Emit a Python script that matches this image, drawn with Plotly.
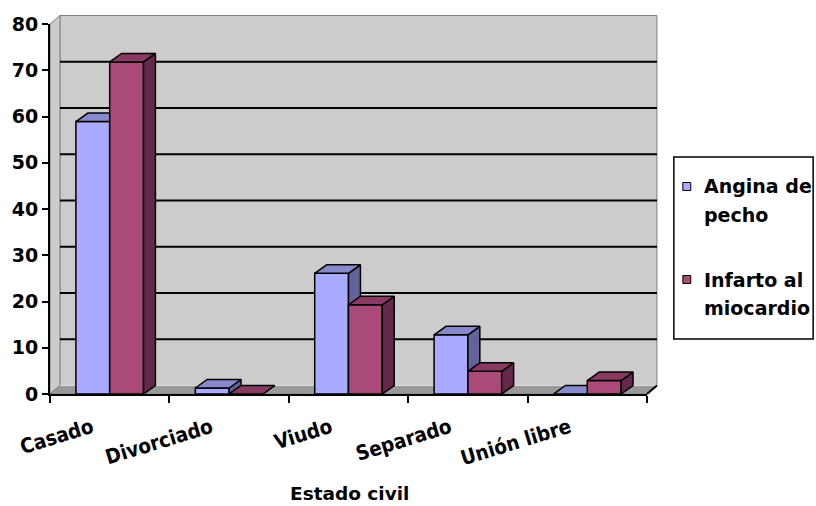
import plotly.graph_objects as go

# ---------------- data ----------------
categories = ["Casado", "Divorciado", "Viudo", "Separado", "Unión libre"]
angina = [58.9, 1.3, 26.1, 12.8, 0.0]
infarto = [71.8, 0.0, 19.3, 4.9, 2.9]
series_names = ["Angina de pecho", "Infarto al miocardio"]
legend_lines = [["Angina de", "pecho"], ["Infarto al", "miocardio"]]
y_ticks = [0, 10, 20, 30, 40, 50, 60, 70, 80]
x_title = "Estado civil"

# ---------------- styles / geometry ----------------
W, H = 816, 506
L, R, T, B = 47, 169, 24, 112
PW, PH = W - L - R, H - T - B
XMIN, XMAX = -0.5, len(categories) - 0.5
YMIN, YMAX = 0, 80
UX = PW / (XMAX - XMIN)
UY = PH / (YMAX - YMIN)

WALL_DX, WALL_DY = 10, 8.5      # px depth of walls
BAR_DX, BAR_DY = 12, 8.5        # px depth of bars
BAR_W = 0.283                   # category units

FONT = "DejaVu Sans"
XFONT = "DejaVu Sans Condensed, Liberation Sans, DejaVu Sans"
front_cols = ["#AAAAFF", "#AA4A78"]
top_cols = ["#8888CC", "#883A62"]
side_cols = ["#636399", "#64284A"]

bdx = BAR_DX / UX
bdy = BAR_DY / UY


def xp(x):
    return (x - XMIN) / (XMAX - XMIN)


def yp(y):
    return (y - YMIN) / (YMAX - YMIN)


def px_x(px):
    return (px - L) / PW


def px_y(py):
    return (H - B - py) / PH


wdx = WALL_DX / PW
wdy = WALL_DY / PH

fig = go.Figure()

# ---------------- bars (front, side, top faces) ----------------
for s, vals in enumerate([angina, infarto]):
    fx, fy, sx, sy, tx, ty = [], [], [], [], [], []
    for i, v in enumerate(vals):
        x0 = i - BAR_W if s == 0 else i
        x1 = x0 + BAR_W
        fx += [x0, x1, x1, x0, x0, None]
        fy += [0, 0, v, v, 0, None]
        sx += [x1, x1 + bdx, x1 + bdx, x1, x1, None]
        sy += [0, bdy, v + bdy, v, 0, None]
        tx += [x0, x1, x1 + bdx, x0 + bdx, x0, None]
        ty += [v, v, v + bdy, v + bdy, v, None]
    for xs, ys, col in [(fx, fy, front_cols[s]),
                        (sx, sy, side_cols[s]),
                        (tx, ty, top_cols[s])]:
        fig.add_trace(go.Scatter(
            x=xs, y=ys, mode="lines", fill="toself", fillcolor=col,
            line=dict(color="black", width=1.5), name=series_names[s],
            showlegend=False, hoverinfo="skip"))

shapes = []
# back wall
shapes.append(dict(type="rect", xref="paper", yref="paper", layer="below",
                   x0=xp(XMIN) + wdx, x1=xp(XMAX) + wdx,
                   y0=yp(YMIN) + wdy, y1=yp(YMAX) + wdy,
                   fillcolor="#CCCCCC", line=dict(color="#808080", width=1)))
# left wall
shapes.append(dict(type="path", xref="paper", yref="paper", layer="below",
                   path=f"M 0 0 L {wdx} {wdy} L {wdx} {1 + wdy} L 0 1 Z",
                   fillcolor="#CCCCCC", line=dict(color="#808080", width=1)))
# floor
shapes.append(dict(type="path", xref="paper", yref="paper", layer="below",
                   path=f"M 0 0 L 1 0 L {1 + wdx} {wdy} L {wdx} {wdy} Z",
                   fillcolor="#999999", line=dict(color="#808080", width=1)))
shapes.append(dict(type="line", xref="paper", yref="paper", layer="below",
                   x0=wdx, x1=1 + wdx, y0=wdy, y1=wdy,
                   line=dict(color="#DDDDDD", width=1)))
# gridlines on back wall
for t in y_ticks[1:-1]:
    shapes.append(dict(type="line", xref="paper", yref="paper", layer="below",
                       x0=wdx, x1=1 + wdx, y0=yp(t) + wdy, y1=yp(t) + wdy,
                       line=dict(color="black", width=2)))
# front-right floor diagonal
shapes.append(dict(type="line", xref="paper", yref="paper", layer="above",
                   x0=1, x1=1 + wdx, y0=0, y1=wdy,
                   line=dict(color="black", width=2)))

# ---------------- legend (manual) ----------------
shapes.append(dict(type="rect", xref="paper", yref="paper", layer="above",
                   x0=px_x(674), x1=px_x(814), y0=px_y(157), y1=px_y(339),
                   fillcolor="white", line=dict(color="black", width=1.5)))
annotations = []
leg_rows = [(186.5, 215.5), (279.5, 307.5)]
for s in range(2):
    yc = leg_rows[s][0]
    shapes.append(dict(type="rect", xref="paper", yref="paper", layer="above",
                       x0=px_x(683), x1=px_x(691), y0=px_y(yc - 4), y1=px_y(yc + 4),
                       fillcolor=front_cols[s], line=dict(color="black", width=1)))
    for k, line_txt in enumerate(legend_lines[s]):
        annotations.append(dict(xref="paper", yref="paper", x=px_x(702),
                                y=px_y(leg_rows[s][k]), xanchor="left", yanchor="middle",
                                text=line_txt, showarrow=False,
                                font=dict(family=FONT, size=19, color="black", weight="bold")))

# axis title
annotations.append(dict(xref="paper", yref="paper", x=px_x(348), y=px_y(493),
                        xanchor="center", yanchor="middle", text=x_title, showarrow=False,
                        font=dict(family=FONT, size=18.5, color="black", weight="bold")))

label_shift = 0.15
fig.update_layout(
    width=W, height=H,
    margin=dict(l=L, r=R, t=T, b=B, pad=0),
    paper_bgcolor="white", plot_bgcolor="rgba(0,0,0,0)",
    showlegend=False,
    shapes=shapes, annotations=annotations,
    xaxis=dict(range=[XMIN, XMAX], tickmode="array",
               tickvals=[i - label_shift for i in range(len(categories))],
               ticktext=categories, ticks="", tickangle=-17, ticklabelstandoff=12,
               showline=True, linecolor="black", linewidth=2,
               showgrid=False, zeroline=False,
               tickfont=dict(family=XFONT, size=20.5, color="black", weight="bold"),
               minor=dict(tickmode="array",
                          tickvals=[i - 0.5 for i in range(len(categories) + 1)],
                          ticks="outside", ticklen=7, tickwidth=2, tickcolor="black",
                          showgrid=False)),
    yaxis=dict(range=[YMIN, YMAX], tickmode="array", tickvals=y_ticks,
               ticks="outside", ticklen=6, tickwidth=2, tickcolor="black",
               showline=True, linecolor="black", linewidth=2,
               showgrid=False, zeroline=False,
               tickfont=dict(family=FONT, size=19, color="black", weight="bold")),
)

fig.write_html("out.html")
